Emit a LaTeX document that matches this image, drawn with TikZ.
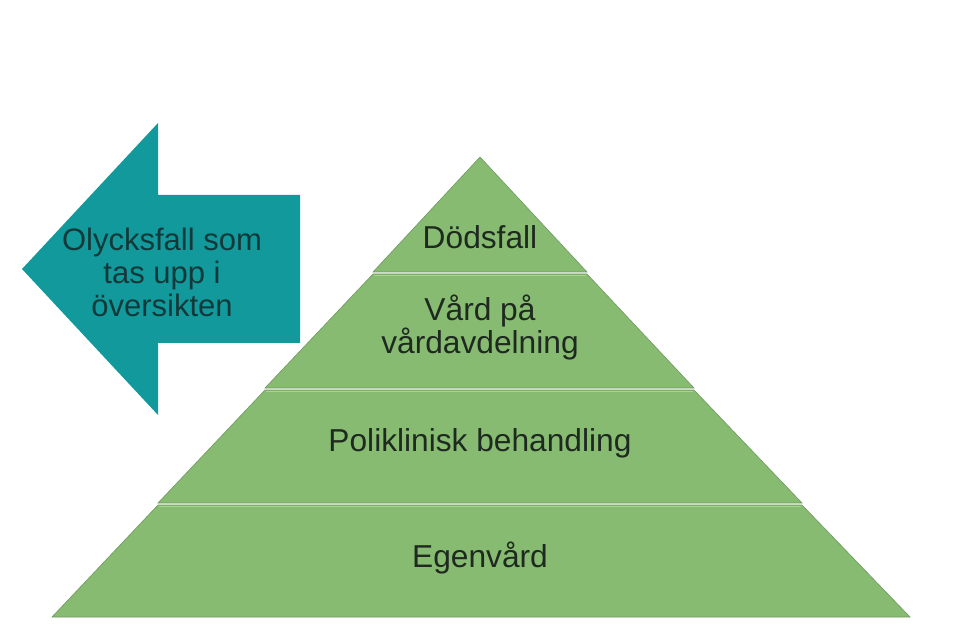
\documentclass[tikz,border=0pt]{standalone}
\usepackage{fontspec}
\setmainfont{Liberation Sans}
\usepackage{xcolor}
\definecolor{Ink}{HTML}{1E2A20}
\definecolor{ArrowInk}{HTML}{12393A}
\definecolor{Teal}{HTML}{12999C}
\definecolor{Leaf}{HTML}{88BB72}
\definecolor{LeafLight}{HTML}{A6D68E}
\definecolor{LeafDark}{HTML}{6E9A5C}

\begin{document}
\begin{tikzpicture}[x=1pt,y=-1pt,
  layer/.style={fill=Leaf,draw=LeafDark,line width=0.6pt,line join=miter},
  rim/.style={draw=LeafLight,line width=1.6pt},
  lbl/.style={font=\fontsize{31.7}{33}\selectfont,text=Ink,align=center}]
\path[use as bounding box,fill=white] (0,0) rectangle (954,639);
% arrow
\fill[Teal] (22,269) -- (158,123) -- (158,195) -- (300,195) -- (300,343)
  -- (158,343) -- (158,415) -- cycle;
\node[lbl,font=\fontsize{31}{33}\selectfont,text=ArrowInk] (scope) at (162,272)
  {Olycksfall som\\tas upp i\\översikten};
% pyramid, top to bottom
\path[layer] (480,157) -- (587,272) -- (373,272) -- cycle;
\path[layer] (373,274) -- (587,274) -- (694,388) -- (265,388) -- cycle;
\path[layer] (265,390) -- (694,390) -- (802,503) -- (158,503) -- cycle;
\path[layer] (158,505) -- (802,505) -- (910,617) -- (52,617) -- cycle;
\draw[rim] (374,275.5) -- (586,275.5);
\draw[rim] (266,391.5) -- (693,391.5);
\draw[rim] (159,506.5) -- (801,506.5);
\node[lbl] (death) at (480,237) {Dödsfall};
\node[lbl] (ward) at (480,328) {Vård på\\vårdavdelning};
\node[lbl] (clinic) at (480,443) {Poliklinisk behandling};
\node[lbl] (self) at (480,558) {Egenvård};
\end{tikzpicture}
\end{document}
